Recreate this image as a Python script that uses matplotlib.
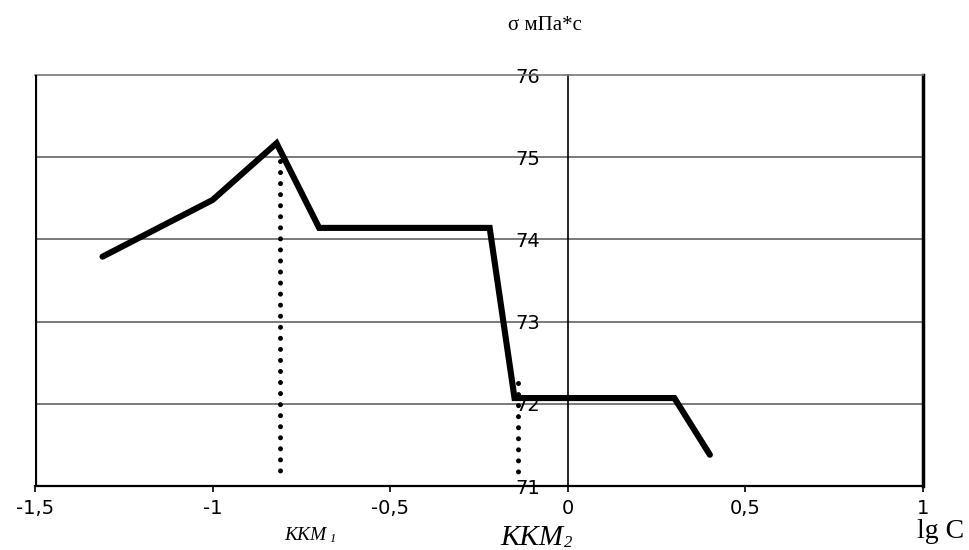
import matplotlib
matplotlib.use("Agg")
import matplotlib.pyplot as plt
from matplotlib.transforms import blended_transform_factory

# ===== data =====
lg_c = [-1.31, -1.0, -0.82, -0.70, -0.22, -0.15, 0.30, 0.40]
sigma = [73.79, 74.48, 75.17, 74.14, 74.14, 72.07, 72.07, 71.38]

kkm1_x = [-0.81, -0.81]
kkm1_y = [74.95, 71.12]
kkm2_x = [-0.14, -0.14]
kkm2_y = [72.25, 71.07]

x_ticks = [-1.5, -1.0, -0.5, 0.0, 0.5, 1.0]
x_tick_labels = ["-1,5", "-1", "-0,5", "0", "0,5", "1"]
y_ticks = [71, 72, 73, 74, 75, 76]
y_tick_labels = ["71", "72", "73", "74", "75", "76"]

fig = plt.figure(figsize=(9.69, 5.5), dpi=100)
ax = fig.add_axes([35 / 969, 1 - 486 / 550, (923 - 35) / 969, (486 - 75) / 550])

ax.set_xlim(-1.5, 1.0)
ax.set_ylim(71, 76)

# horizontal grid
for yv in y_ticks[1:-1]:
    ax.axhline(yv, color="#555555", lw=1.1, zorder=1)

# frame
ax.spines["top"].set_color("#777777")
ax.spines["top"].set_linewidth(1.2)
ax.spines["right"].set_linewidth(2.5)
ax.spines["bottom"].set_linewidth(1.6)
ax.spines["left"].set_position(("data", 0))
ax.spines["left"].set_linewidth(1.2)
ax.axvline(-1.5, color="black", lw=3.0, zorder=3)

# main curve
ax.plot(lg_c, sigma, color="black", lw=4.4, solid_joinstyle="miter",
        solid_capstyle="round", zorder=4)

# dotted markers for KKM
for xs, ys in [(kkm1_x, kkm1_y), (kkm2_x, kkm2_y)]:
    ax.plot(xs, ys, color="black", lw=3.6, linestyle=(0, (0.01, 2.2)),
            dash_capstyle="round", zorder=5)

# ticks
ax.set_xticks(x_ticks)
ax.set_xticklabels(x_tick_labels, fontsize=14, fontfamily="DejaVu Sans")
ax.tick_params(axis="x", direction="out", length=4, width=1.2, pad=5)
ax.set_yticks(y_ticks)
ax.set_yticklabels(y_tick_labels, fontsize=14, fontfamily="DejaVu Sans")
ax.tick_params(axis="y", length=0, pad=20)

# texts
fig.text(545 / 969, 1 - 25 / 550, "σ мПа*с", fontsize=15,
         fontfamily="Liberation Serif", ha="center", va="center")
fig.text(941 / 969, 1 - 538 / 550, "lg C", fontsize=20,
         fontfamily="Liberation Serif", ha="center", va="baseline")

tr = blended_transform_factory(ax.transData, fig.transFigure)
ax.text(-0.74, 1 - 540 / 550, "ККМ", transform=tr, fontsize=14,
        fontfamily="Liberation Serif", style="italic", ha="center",
        va="baseline", clip_on=False)
ax.text(-0.672, 1 - 542 / 550, "1", transform=tr, fontsize=9,
        fontfamily="Liberation Serif", style="italic", ha="left",
        va="baseline", clip_on=False)
ax.text(-0.10, 1 - 545 / 550, "ККМ", transform=tr, fontsize=21,
        fontfamily="Liberation Serif", style="italic", ha="center",
        va="baseline", clip_on=False)
ax.text(-0.012, 1 - 547 / 550, "2", transform=tr, fontsize=12,
        fontfamily="Liberation Serif", style="italic", ha="left",
        va="baseline", clip_on=False)

fig.savefig("out.png", dpi=100)
